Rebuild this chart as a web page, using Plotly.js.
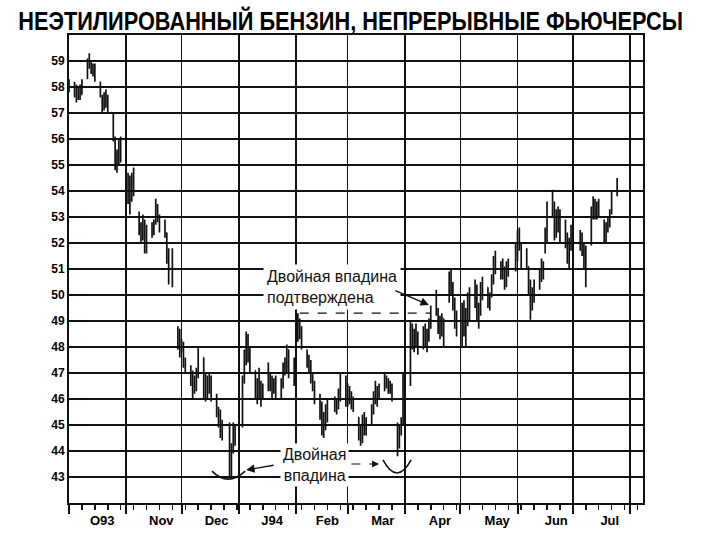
<!DOCTYPE html>
<html>
<head>
<meta charset="utf-8">
<script src="https://cdn.plot.ly/plotly-3.0.1.min.js"></script>
<style>html,body{margin:0;padding:0;background:#fff;}#chart{width:720px;height:540px;}</style>
</head>
<body>
<div id="chart"></div>
<script>
// Trading days (one line per week)
var dates = [
'1993-10-01',
'1993-10-04','1993-10-05','1993-10-06','1993-10-07','1993-10-08',
'1993-10-11','1993-10-12','1993-10-13','1993-10-14','1993-10-15',
'1993-10-18','1993-10-19','1993-10-20','1993-10-21','1993-10-22',
'1993-10-25','1993-10-26','1993-10-27','1993-10-28','1993-10-29',
'1993-11-01','1993-11-02','1993-11-03','1993-11-04','1993-11-05',
'1993-11-08','1993-11-09','1993-11-10','1993-11-11','1993-11-12',
'1993-11-15','1993-11-16','1993-11-17','1993-11-18','1993-11-19',
'1993-11-22','1993-11-23','1993-11-24','1993-11-26',
'1993-11-29','1993-11-30','1993-12-01','1993-12-02','1993-12-03',
'1993-12-06','1993-12-07','1993-12-08','1993-12-09','1993-12-10',
'1993-12-13','1993-12-14','1993-12-15','1993-12-16','1993-12-17',
'1993-12-20','1993-12-21','1993-12-22','1993-12-23',
'1993-12-27','1993-12-28','1993-12-29','1993-12-30',
'1994-01-03','1994-01-04','1994-01-05','1994-01-06','1994-01-07',
'1994-01-10','1994-01-11','1994-01-12','1994-01-13','1994-01-14',
'1994-01-17','1994-01-18','1994-01-19','1994-01-20','1994-01-21',
'1994-01-24','1994-01-25','1994-01-26','1994-01-27','1994-01-28',
'1994-01-31','1994-02-01','1994-02-02','1994-02-03','1994-02-04',
'1994-02-07','1994-02-08','1994-02-09','1994-02-10','1994-02-11',
'1994-02-14','1994-02-15','1994-02-16','1994-02-17','1994-02-18',
'1994-02-22','1994-02-23','1994-02-24','1994-02-25',
'1994-02-28','1994-03-01','1994-03-02','1994-03-03','1994-03-04',
'1994-03-07','1994-03-08','1994-03-09','1994-03-10','1994-03-11',
'1994-03-14','1994-03-15','1994-03-16','1994-03-17','1994-03-18',
'1994-03-21','1994-03-22','1994-03-23','1994-03-24','1994-03-25',
'1994-03-28','1994-03-29','1994-03-30','1994-03-31',
'1994-04-04','1994-04-05','1994-04-06','1994-04-07','1994-04-08',
'1994-04-11','1994-04-12','1994-04-13','1994-04-14','1994-04-15',
'1994-04-18','1994-04-19','1994-04-20','1994-04-21','1994-04-22',
'1994-04-25','1994-04-26','1994-04-27','1994-04-28','1994-04-29',
'1994-05-02','1994-05-03','1994-05-04','1994-05-05','1994-05-06',
'1994-05-09','1994-05-10','1994-05-11','1994-05-12','1994-05-13',
'1994-05-16','1994-05-17','1994-05-18','1994-05-19','1994-05-20',
'1994-05-23','1994-05-24','1994-05-25','1994-05-26','1994-05-27',
'1994-05-31','1994-06-01','1994-06-02','1994-06-03',
'1994-06-06','1994-06-07','1994-06-08','1994-06-09','1994-06-10',
'1994-06-13','1994-06-14','1994-06-15','1994-06-16','1994-06-17',
'1994-06-20','1994-06-21','1994-06-22','1994-06-23','1994-06-24',
'1994-06-27','1994-06-28','1994-06-29','1994-06-30','1994-07-01',
'1994-07-05','1994-07-06','1994-07-07','1994-07-08',
'1994-07-11','1994-07-12','1994-07-13','1994-07-14','1994-07-15',
'1994-07-18','1994-07-19','1994-07-20','1994-07-21','1994-07-22',
'1994-07-25'
];
var openP = [
58.0,
58.1,57.8,57.6,57.9,57.7,
58.4,58.9,58.8,58.6,58.8,
58.2,57.6,57.3,57.6,57.4,
57.0,56.0,55.0,55.3,55.8,
55.0,54.0,54.5,53.6,54.3,
53.2,52.5,52.2,52.8,51.9,
52.5,52.6,52.8,53.4,53.0,
52.6,52.4,51.5,50.8,
48.5,48.2,48.0,48.1,47.4,
47.2,46.8,46.4,46.7,47.0,
47.6,46.3,46.2,46.6,46.8,
46.1,45.5,45.2,44.8,
44.6,43.3,44.1,44.8,
45.0,46.6,47.7,48.1,47.6,
47.1,46.3,46.5,46.1,46.2,
46.4,47.0,46.6,46.5,46.6,
46.3,46.6,47.2,47.4,47.9,
47.0,47.4,48.4,48.9,48.6,
47.8,47.5,47.3,46.8,46.5,
46.0,45.4,44.9,45.2,45.6,
45.8,45.9,45.7,46.2,
46.6,46.0,46.3,46.0,45.9,
45.3,44.6,44.5,45.1,44.9,
45.0,45.6,46.1,46.4,46.0,
46.4,46.8,46.6,46.4,46.5,
45.0,44.2,44.8,45.1,
46.8,48.6,48.2,48.5,48.1,
48.0,48.6,48.2,48.4,49.0,
49.4,49.4,48.8,48.5,49.1,
49.8,50.6,50.2,49.6,49.0,
48.8,49.3,48.6,49.2,49.9,
49.6,50.3,49.3,49.5,50.2,
50.3,49.8,50.0,50.6,51.2,
51.0,51.1,50.8,50.6,51.0,
51.2,51.8,52.2,51.9,
51.3,51.1,50.3,49.5,50.0,
50.4,50.7,51.2,51.7,52.4,
53.3,53.4,52.4,53.0,52.8,
52.3,52.1,51.5,51.8,52.5,
52.2,52.2,51.7,51.3,
52.0,53.2,53.4,53.1,53.4,
52.8,52.3,52.6,52.8,53.2,
53.9
];
var highP = [
58.3,
58.2,58.1,58.0,58.1,58.3,
59.1,59.3,59.0,58.9,58.9,
58.2,57.7,57.8,57.9,57.7,
57.0,56.1,55.6,56.0,56.1,
55.1,54.7,54.6,54.7,54.9,
53.2,52.8,53.1,52.9,52.7,
52.8,52.9,53.7,53.5,53.1,
52.9,52.4,51.8,51.8,
48.8,48.7,48.3,48.2,47.6,
47.3,47.1,46.9,47.2,48.0,
47.6,47.0,46.9,47.0,46.9,
46.2,45.7,45.6,45.2,
45.1,44.3,45.1,45.0,
46.9,47.9,48.6,48.5,48.0,
47.1,46.8,47.2,46.7,46.6,
47.4,47.0,46.9,46.8,46.9,
46.8,47.4,47.6,48.1,47.9,
47.6,48.6,49.3,49.1,48.8,
47.9,47.7,47.5,47.0,46.7,
46.2,45.9,45.5,45.8,46.0,
46.1,46.0,46.4,47.0,
46.9,46.6,46.5,46.3,46.1,
45.3,45.0,45.4,45.5,45.3,
45.8,46.3,46.7,46.5,46.6,
47.0,46.9,46.8,46.7,46.6,
45.1,45.0,45.3,47.0,
49.0,48.9,48.7,48.9,48.6,
48.8,48.9,48.7,49.1,49.6,
50.2,49.5,49.2,49.3,49.1,
50.9,51.0,50.5,49.9,49.4,
49.7,49.8,49.5,50.1,50.3,
50.6,50.4,49.7,50.5,50.7,
50.3,50.1,50.8,51.5,51.7,
51.3,51.4,51.1,51.3,51.4,
52.0,52.5,52.6,52.0,
51.8,51.1,50.6,50.3,50.6,
51.0,51.4,51.3,52.6,53.6,
54.05,53.6,53.3,53.4,53.3,
52.9,52.4,52.2,52.7,52.8,
52.5,52.4,52.0,51.9,
53.4,53.8,53.7,53.6,53.7,
52.9,52.8,53.0,53.3,54.0,
54.5
];
var lowP = [
57.8,
57.6,57.4,57.5,57.5,57.7,
58.3,58.7,58.5,58.4,58.2,
57.6,57.0,57.1,57.2,57.0,
55.9,54.8,54.7,55.0,55.1,
53.7,53.5,53.1,53.6,53.8,
52.3,52.0,52.1,51.6,51.6,
52.2,52.3,52.7,52.8,52.4,
52.2,51.2,50.4,50.3,
47.9,47.6,47.8,47.2,47.0,
46.5,46.0,46.2,46.3,46.8,
46.0,45.9,46.0,46.2,45.9,
45.3,44.9,44.5,44.4,
43.0,43.0,43.9,44.2,
44.9,46.6,47.3,47.4,47.0,
46.0,45.8,46.0,45.7,46.0,
46.3,46.3,46.0,46.2,46.0,
46.0,46.4,46.9,47.0,46.8,
46.5,47.3,48.2,48.3,47.9,
47.2,47.0,46.6,46.3,45.8,
45.2,44.6,44.5,44.8,45.1,
45.5,45.4,45.6,45.9,
45.7,45.7,45.8,45.6,45.5,
44.4,44.2,44.3,44.6,44.6,
45.0,45.4,45.8,45.7,46.0,
46.3,46.4,46.2,46.2,45.9,
43.8,44.1,44.6,45.0,
46.5,47.9,47.8,48.0,47.7,
47.9,48.0,47.8,48.2,48.7,
49.2,48.5,48.3,48.4,48.0,
49.7,50.0,49.4,48.7,48.4,
48.0,48.4,48.0,48.8,49.0,
49.5,49.0,48.7,49.2,49.8,
49.5,49.4,49.9,50.4,50.8,
50.6,50.6,50.2,50.3,50.7,
50.9,51.3,51.7,51.0,
51.0,50.0,49.05,49.4,49.7,
50.2,50.5,50.6,51.6,52.0,
53.0,52.1,52.2,52.4,52.0,
51.8,51.2,51.0,51.7,51.9,
51.7,51.5,51.0,50.3,
51.9,52.9,52.9,52.9,53.0,
52.0,52.0,52.4,52.6,53.1,
53.8
];
var closeP = [
58.1,
57.8,57.6,57.9,57.7,58.2,
58.9,58.8,58.6,58.8,58.3,
57.7,57.3,57.6,57.4,57.1,
56.0,55.0,55.3,55.8,55.2,
54.0,54.5,53.4,54.3,54.0,
52.5,52.2,52.8,51.9,52.5,
52.6,52.8,53.4,53.0,52.6,
52.4,51.5,50.8,50.9,
48.2,48.0,48.1,47.4,47.2,
46.8,46.4,46.7,47.0,47.8,
46.3,46.2,46.6,46.8,46.1,
45.5,45.2,44.8,44.6,
43.3,44.1,44.8,44.5,
46.6,47.7,48.1,47.6,47.3,
46.3,46.5,46.1,46.2,46.4,
47.0,46.6,46.5,46.6,46.3,
46.6,47.2,47.4,47.9,47.0,
47.4,48.4,48.9,48.6,48.2,
47.5,47.3,46.8,46.5,46.0,
45.4,44.9,45.2,45.6,45.8,
45.9,45.7,46.2,46.6,
46.0,46.3,46.0,45.9,45.7,
44.6,44.5,45.1,44.9,45.0,
45.6,46.1,46.4,46.0,46.4,
46.8,46.6,46.4,46.5,46.0,
44.2,44.8,45.1,46.8,
48.6,48.2,48.5,48.1,48.0,
48.6,48.2,48.4,49.0,49.4,
49.6,48.8,48.5,49.1,48.3,
50.6,50.2,49.6,49.0,48.8,
49.3,48.6,49.2,49.9,49.2,
50.3,49.3,49.5,50.2,50.5,
49.8,50.0,50.6,51.2,51.0,
51.1,50.8,50.6,51.0,51.2,
51.8,52.2,51.9,51.3,
51.2,50.3,49.5,50.0,50.4,
50.7,51.2,51.1,52.4,53.3,
53.4,52.4,53.0,52.8,52.3,
52.1,51.5,51.8,52.5,52.2,
52.2,51.7,51.3,51.8,
53.2,53.4,53.1,53.4,53.3,
52.3,52.6,52.8,53.2,53.9,
54.3
];

// Axis labels
var monthStarts = ['1993-10-01','1993-11-01','1993-12-01','1994-01-01','1994-02-01','1994-03-01',
                   '1994-04-01','1994-05-01','1994-06-01','1994-07-01','1994-08-01'];
var monthLabelDates = ['1993-10-19','1993-11-20','1993-12-20','1994-01-19','1994-02-18','1994-03-20',
                       '1994-04-20','1994-05-21','1994-06-22','1994-07-21'];
var monthLabels = ['O93','Nov','Dec','J94','Feb','Mar','Apr','May','Jun','Jul'];
var priceTicks = [43,44,45,46,47,48,49,50,51,52,53,54,55,56,57,58,59];

var titleText = 'НЕЭТИЛИРОВАННЫЙ БЕНЗИН, НЕПРЕРЫВНЫЕ ФЬЮЧЕРСЫ';
var noteConfirmed = 'Двойная впадина<br>подтверждена';
var noteBottom = 'Двойная<br>впадина';
var neckline = {start: '1994-02-03', end: '1994-04-15', level: 49.3};

var xRange = ['1993-10-01','1994-08-08'];
var ink = '#111';
var sans = 'Liberation Sans, Arial, sans-serif';

var traces = [
  {
    type: 'ohlc', x: dates, open: openP, high: highP, low: lowP, close: closeP,
    increasing: {line: {color: ink, width: 1.7}},
    decreasing: {line: {color: ink, width: 1.7}},
    tickwidth: 0.25, hoverinfo: 'skip', showlegend: false
  },
  {type: 'scatter', x: [], y: [], xaxis: 'x2', yaxis: 'y', hoverinfo: 'skip', showlegend: false}
];

var layout = {
  width: 720, height: 540,
  margin: {l: 69, r: 77, t: 35, b: 37},
  paper_bgcolor: '#fff', plot_bgcolor: '#fff',
  showlegend: false,
  title: {
    text: '<b>' + titleText + '</b>',
    x: 0.487, xanchor: 'center', xref: 'container',
    y: 0.962, yanchor: 'middle', yref: 'container',
    font: {family: 'Liberation Sans, Arial, sans-serif', size: 26, color: '#000'}
  },
  xaxis: {
    type: 'date', range: xRange,
    rangeslider: {visible: false},
    tickmode: 'array', tickvals: monthStarts, showticklabels: false,
    ticks: 'outside', ticklen: 9, tickwidth: 2, tickcolor: ink,
    showgrid: true, gridcolor: ink, gridwidth: 1.5,
    showline: true, linecolor: ink, linewidth: 2, mirror: true,
    zeroline: false,
    minor: {tickmode: 'linear', tick0: '1993-10-08', dtick: 7 * 86400000,
            ticks: 'outside', ticklen: 5, tickwidth: 1.5, tickcolor: ink, showgrid: false}
  },
  xaxis2: {
    type: 'date', range: xRange, overlaying: 'x', anchor: 'y', side: 'bottom',
    tickmode: 'array', tickvals: monthLabelDates, ticktext: monthLabels,
    ticks: '', showgrid: false, showline: false, zeroline: false,
    ticklabelstandoff: 8,
    tickfont: {family: sans, size: 13, color: '#000', weight: 'bold'}
  },
  yaxis: {
    range: [42, 60], tickmode: 'array', tickvals: priceTicks,
    ticks: '', showgrid: true, gridcolor: ink, gridwidth: 1.5,
    showline: true, linecolor: ink, linewidth: 2, mirror: true, zeroline: false,
    tickfont: {family: sans, size: 12, color: '#000', weight: 'bold'}
  },
  shapes: [
    {type: 'line', xref: 'x', yref: 'y', x0: neckline.start, x1: neckline.end,
     y0: neckline.level, y1: neckline.level, line: {color: ink, width: 1.2, dash: 'dash'}},
    {type: 'line', xref: 'x', yref: 'y', x0: '1994-03-03', x1: '1994-03-15',
     y0: 43.5, y1: 43.5, line: {color: ink, width: 1.2, dash: 'dash'}},
    {type: 'path', xref: 'paper', yref: 'paper',
     path: 'M 0.249 0.068 Q 0.277 0.034 0.307 0.068', line: {color: ink, width: 1.6}},
    {type: 'path', xref: 'paper', yref: 'paper',
     path: 'M 0.547 0.092 Q 0.5714 0.036 0.596 0.092', line: {color: ink, width: 1.6}}
  ],
  annotations: [
    {xref: 'x', yref: 'y', x: '1994-01-14', y: 50.3, xanchor: 'left', yanchor: 'middle',
     text: noteConfirmed, align: 'left', showarrow: false, bgcolor: '#fff', borderpad: 3,
     font: {family: sans, size: 16, color: '#111'}},
    {xref: 'x', yref: 'y', x: '1994-02-11', y: 43.46, xanchor: 'center', yanchor: 'middle',
     text: noteBottom, align: 'center', showarrow: false, bgcolor: '#fff', borderpad: 2,
     font: {family: sans, size: 16, color: '#111'}},
    {xref: 'x', yref: 'y', x: '1994-04-14', y: 49.62, text: '', showarrow: true,
     ax: -35, ay: -15, arrowhead: 2, arrowsize: 1.2, arrowwidth: 1.4, arrowcolor: ink},
    {xref: 'x', yref: 'y', x: '1994-01-05', y: 43.27, text: '', showarrow: true,
     ax: 29, ay: -5, arrowhead: 2, arrowsize: 1.2, arrowwidth: 1.4, arrowcolor: ink},
    {xref: 'x', yref: 'y', x: '1994-03-18', y: 43.5, text: '', showarrow: true,
     ax: -7, ay: 0, arrowhead: 2, arrowsize: 1, arrowwidth: 1.4, arrowcolor: ink}
  ]
};

Plotly.newPlot('chart', traces, layout, {staticPlot: true, displayModeBar: false}).then(function (gd) {
  // condense the heavy title horizontally to the reference width (real text kept)
  var t = gd.querySelector('.gtitle');
  if (t) {
    var bb = t.getBBox();
    var target = 665;
    if (bb.width > target) {
      var s = target / bb.width;
      var cx = bb.x + bb.width / 2;
      t.setAttribute('transform', 'translate(' + cx + ',0) scale(' + s + ',1) translate(' + (-cx) + ',0)');
    }
  }
});
</script>
</body>
</html>
